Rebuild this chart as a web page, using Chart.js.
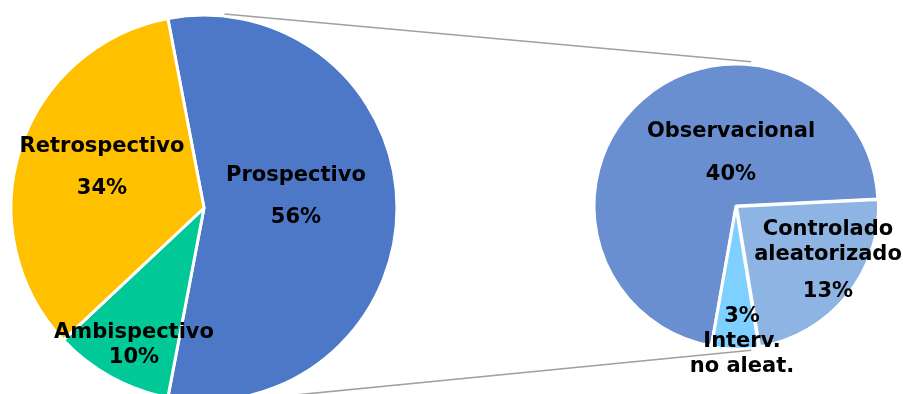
<!DOCTYPE html>
<html>
<head>
<meta charset="utf-8">
<script src="https://cdn.jsdelivr.net/npm/chart.js@4.4.1/dist/chart.umd.min.js"></script>
<style>
  html, body { margin: 0; padding: 0; background: #ffffff; overflow: hidden; }
  #wrap { position: relative; width: 903px; height: 394px; }
  canvas { position: absolute; left: 0; top: 0; }
</style>
</head>
<body>
<div id="wrap">
  <canvas id="leftPie" width="903" height="394"></canvas>
  <canvas id="rightPie" width="903" height="394"></canvas>
</div>
<script>
// ---- Data ----
const mainCategories = ['Prospectivo', 'Ambispectivo', 'Retrospectivo'];
const mainValues = [56, 10, 34];
const mainColors = ['#4D78C8', '#00C896', '#FFC000'];

const subCategories = [['Observacional'], ['Controlado', 'aleatorizado'], ['Interv.', 'no aleat.']];
const subValues = [40, 13, 3];
const subColors = ['#6A8FD0', '#8DB4E2', '#7DD0FF'];
const subOffsets = [0, 3, 3];

// ---- Label layout (relative to pie centre, px) ----
const mainLabelLayout = [
  { dx: 92, dy: -11, ys: [-21, 21], pctFirst: false },
  { dx: -70, dy: 137.5, ys: [-12.5, 12.5], pctFirst: false },
  { dx: -102, dy: -40, ys: [-21, 21], pctFirst: false }
];
const subLabelLayout = [
  { dx: -5, dy: -52.5, ys: [-21.5, 21.5], pctFirst: false },
  { dx: 92, dy: 49, ys: [-25, 0, 37], pctFirst: false },
  { dx: 6, dy: 136, ys: [-25, 0, 25], pctFirst: true }
];

const FONT = 'bold 21px "DejaVu Sans", Verdana, sans-serif';

function labelPlugin(layout) {
  return {
    id: 'sliceLabels',
    afterDatasetsDraw(chart) {
      const ctx = chart.ctx;
      const meta = chart.getDatasetMeta(0);
      const values = chart.data.datasets[0].data;
      ctx.save();
      ctx.font = FONT;
      ctx.fillStyle = '#000000';
      ctx.textAlign = 'center';
      ctx.textBaseline = 'middle';
      meta.data.forEach((arc, i) => {
        const L = layout[i];
        const name = chart.data.labels[i];
        const nameLines = Array.isArray(name) ? name : [name];
        const pct = values[i] + '%';
        const lines = L.pctFirst ? [pct, ...nameLines] : [...nameLines, pct];
        lines.forEach((t, k) => {
          ctx.fillText(t, arc.x + L.dx, arc.y + L.dy + L.ys[k]);
        });
      });
      ctx.restore();
    }
  };
}

const leftChart = new Chart(document.getElementById('leftPie'), {
  type: 'pie',
  data: {
    labels: mainCategories,
    datasets: [{
      data: mainValues,
      backgroundColor: mainColors,
      borderColor: '#ffffff',
      borderWidth: 3
    }]
  },
  options: {
    responsive: false,
    animation: false,
    devicePixelRatio: 1,
    rotation: 90 - 0.56 * 180,
    radius: 193,
    layout: { padding: { left: 0, top: 22, right: 495, bottom: 0 } },
    plugins: { legend: { display: false }, tooltip: { enabled: false } }
  },
  plugins: [labelPlugin(mainLabelLayout)]
});

const connectorPlugin = {
  id: 'connectors',
  afterDraw(chart) {
    const la = leftChart.getDatasetMeta(0).data[0];
    const ra = chart.getDatasetMeta(0).data[0];
    const pt = (arc, deg, extra) => {
      const a = deg * Math.PI / 180;
      const r = arc.outerRadius + extra;
      return [arc.x + r * Math.sin(a), arc.y - r * Math.cos(a)];
    };
    const ctx = chart.ctx;
    ctx.save();
    ctx.strokeStyle = '#A0A0A0';
    ctx.lineWidth = 1.6;
    [6, 174].forEach(deg => {
      const p1 = pt(la, deg, 2);
      const p2 = pt(ra, deg, 3);
      ctx.beginPath();
      ctx.moveTo(p1[0], p1[1]);
      ctx.lineTo(p2[0], p2[1]);
      ctx.stroke();
    });
    ctx.restore();
  }
};

new Chart(document.getElementById('rightPie'), {
  type: 'pie',
  data: {
    labels: subCategories,
    datasets: [{
      data: subValues,
      backgroundColor: subColors,
      borderColor: '#ffffff',
      borderWidth: 3,
      offset: subOffsets
    }]
  },
  options: {
    responsive: false,
    animation: false,
    devicePixelRatio: 1,
    rotation: 190,
    radius: 142,
    layout: { padding: { left: 569, top: 18, right: 0, bottom: 0 } },
    plugins: { legend: { display: false }, tooltip: { enabled: false } }
  },
  plugins: [connectorPlugin, labelPlugin(subLabelLayout)]
});
</script>
</body>
</html>
